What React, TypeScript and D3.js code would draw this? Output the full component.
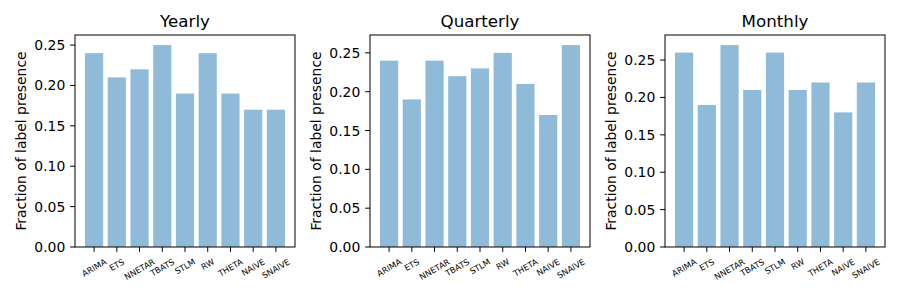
import * as d3 from 'd3'

const methods = ['ARIMA', 'ETS', 'NNETAR', 'TBATS', 'STLM', 'RW', 'THETA', 'NAIVE', 'SNAIVE']
const panelTitles = ['Yearly', 'Quarterly', 'Monthly']
const yearly = [0.24, 0.21, 0.22, 0.25, 0.19, 0.24, 0.19, 0.17, 0.17]
const quarterly = [0.24, 0.19, 0.24, 0.22, 0.23, 0.25, 0.21, 0.17, 0.26]
const monthly = [0.26, 0.19, 0.27, 0.21, 0.26, 0.21, 0.22, 0.18, 0.22]
const yTicks = [0, 0.05, 0.1, 0.15, 0.2, 0.25]

const panelData = [yearly, quarterly, monthly]

const W = 900
const H = 300
const top = 35
const bottom = 247
const lefts = [75, 370, 665]
const panelW = 220
const font = 'DejaVu Sans, sans-serif'
const tickFont = 13.9
const smallFont = 8.3
const barColor = '#8fbbd9'

let ctx: CanvasRenderingContext2D | null = null
const textWidth = (s: string, size: number) => {
  if (!ctx) ctx = document.createElement('canvas').getContext('2d')
  if (!ctx) return s.length * size * 0.65
  ctx.font = `${size}px DejaVu Sans`
  return ctx.measureText(s).width
}

const Panel = ({ values, title, left }: { values: number[]; title: string; left: number }) => {
  const maxV = d3.max(values) as number
  const x = d3
    .scaleLinear()
    .domain([-0.84, methods.length - 1 + 0.84])
    .range([left, left + panelW])
  const y = d3
    .scaleLinear()
    .domain([0, maxV * 1.05])
    .range([bottom, top])
  const fmt = d3.format('.2f')
  const tickLen = 4.86
  const labelTop = bottom + tickLen * 2
  const sin = Math.sin(Math.PI / 6)
  const cos = Math.cos(Math.PI / 6)

  return (
    <g>
      {values.map((v, i) => (
        <rect
          key={i}
          x={x(i - 0.4)}
          y={y(v)}
          width={x(0.4) - x(-0.4)}
          height={y(0) - y(v)}
          fill={barColor}
        />
      ))}
      <rect
        x={left}
        y={top}
        width={panelW}
        height={bottom - top}
        fill="none"
        stroke="#000"
        strokeWidth={1}
      />
      {yTicks.map(t => (
        <g key={t}>
          <line x1={left - tickLen} x2={left} y1={y(t)} y2={y(t)} stroke="#000" />
          <text
            x={left - tickLen * 2}
            y={y(t)}
            textAnchor="end"
            dominantBaseline="central"
            fontSize={tickFont}
            fontFamily={font}
          >
            {fmt(t)}
          </text>
        </g>
      ))}
      {methods.map((m, i) => {
        // rotated label: bbox centred on the tick, top just below it
        const w = textWidth(m, smallFont)
        const h = smallFont * 1.17
        const bh = w * sin + h * cos
        const cy = labelTop + bh / 2
        return (
          <g key={m}>
            <line x1={x(i)} x2={x(i)} y1={bottom} y2={bottom + tickLen} stroke="#000" />
            <g transform={`translate(${x(i)},${cy})`}>
              <g transform="rotate(-30)">
                <text
                  textAnchor="middle"
                  dominantBaseline="central"
                  fontSize={smallFont}
                  fontFamily={font}
                >
                  {m}
                </text>
              </g>
            </g>
          </g>
        )
      })}
      <text
        x={left + panelW / 2}
        y={top - 8.5}
        textAnchor="middle"
        fontSize={16.7}
        fontFamily={font}
      >
        {title}
      </text>
      <text
        transform={`translate(${left - 49},${(top + bottom) / 2}) rotate(-90)`}
        textAnchor="middle"
        fontSize={tickFont}
        fontFamily={font}
      >
        Fraction of label presence
      </text>
    </g>
  )
}

export default function App() {
  return (
    <svg
      width={W}
      height={H}
      style={{ display: 'block', background: '#fff', position: 'absolute', left: 0, top: 0 }}
    >
      {panelData.map((vals, i) => (
        <Panel key={i} values={vals} title={panelTitles[i]} left={lefts[i]} />
      ))}
    </svg>
  )
}
